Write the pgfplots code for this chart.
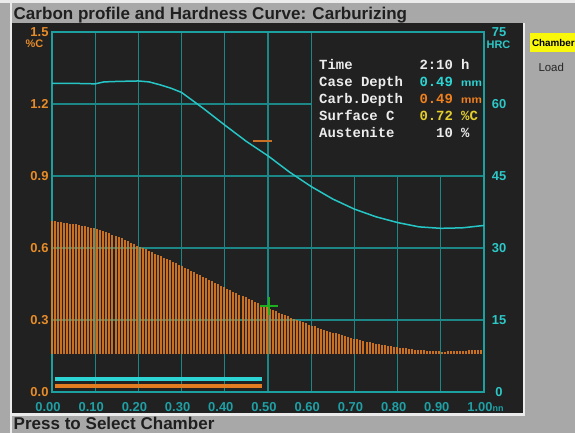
\documentclass[border=0pt]{standalone}
\usepackage{pgfplots}
\pgfplotsset{compat=1.18}
\usepackage{fontspec}
\setmainfont{Liberation Sans}
\setmonofont{Liberation Mono}
\definecolor{bg}{RGB}{33,33,33}
\definecolor{framegray}{RGB}{168,168,168}
\definecolor{lightline}{RGB}{235,235,235}
\definecolor{gridc}{RGB}{28,135,135}
\definecolor{axc}{RGB}{28,160,160}
\definecolor{hrdc}{RGB}{38,198,198}
\definecolor{carbc}{RGB}{226,124,32}
\definecolor{dashc}{RGB}{200,112,35}
\definecolor{lblorange}{RGB}{232,140,40}
\definecolor{lblcyan}{RGB}{45,200,200}
\definecolor{xlblc}{RGB}{30,160,165}
\definecolor{txtwhite}{RGB}{236,236,236}
\definecolor{txtcyan}{RGB}{45,212,212}
\definecolor{txtyellow}{RGB}{228,206,45}
\definecolor{txtorange}{RGB}{240,128,30}
\definecolor{crossg}{RGB}{30,175,30}
\definecolor{btnyellow}{RGB}{250,248,10}
\newcommand{\tickfont}{\bfseries\fontsize{13}{13}\selectfont}
\newcommand{\boxfont}{\ttfamily\bfseries\fontsize{14}{14}\selectfont}
\newcommand{\unitfont}{\sffamily\bfseries\fontsize{12}{12}\selectfont}
\begin{document}
\begin{tikzpicture}
\useasboundingbox (0bp,0bp) rectangle (575bp,433bp);
% frame and panels (picture coordinates in bp: y = 433 - pixel row)
\fill[framegray] (0bp,0bp) rectangle (575bp,433bp);
\fill[lightline] (0bp,429.5bp) rectangle (575bp,433bp);
\fill[lightline] (10bp,0bp) rectangle (12bp,430bp);
\fill[lightline] (12bp,17bp) rectangle (524.5bp,20bp);
\fill[lightline] (522.5bp,17bp) rectangle (524.5bp,410bp);
\fill[bg] (12bp,20bp) rectangle (522.5bp,410bp);
\node[anchor=base west, inner sep=0, text=black!88, font=\bfseries\fontsize{17.1}{17}\selectfont] at (13.5bp,413.7bp) {Carbon profile and Hardness Curve: Carburizing};
\node[anchor=base west, inner sep=0, text=black!88, font=\bfseries\fontsize{17.1}{17}\selectfont] at (13.5bp,4bp) {Press to Select Chamber};
\fill[btnyellow] (530bp,380.7bp) rectangle (576bp,399.7bp);
\node[anchor=base west, inner sep=0, text=black, font=\bfseries\fontsize{9.9}{10}\selectfont] at (531.8bp,386bp) {Chamber};
\node[anchor=base west, inner sep=0, text=black!85, font=\fontsize{11.5}{11.5}\selectfont] at (538.3bp,361.3bp) {Load};

\begin{axis}[
  at={(52bp,41bp)}, anchor=south west, scale only axis,
  width=432bp, height=360bp,
  xmin=0, xmax=1, ymin=0, ymax=1.5,
  axis line style={axc, line width=1.6bp},
  grid=major, major grid style={gridc, line width=1.1bp},
  major tick length=0pt,
  xtick={0,0.1,0.2,0.3,0.4,0.5,0.6,0.7,0.8,0.9,1},
  xticklabels={0.00,0.10,0.20,0.30,0.40,0.50,0.60,0.70,0.80,0.90,{1.00\rlap{\fontsize{9}{9}\selectfont nn}}},
  ytick={0,0.3,0.6,0.9,1.2,1.5},
  yticklabels={0.0,0.3,0.6,0.9,1.2,1.5},
  xticklabel style={text=xlblc, font=\tickfont, xshift=-4bp, yshift=-7bp},
  yticklabel style={text=lblorange, font=\tickfont},
  clip=false,
]
% carbon profile bars (from core carbon 0.158 up to the profile)
\addplot[carbc, line width=2bp, draw opacity=0.88, quiver={u=0, v=\thisrow{c}-0.158}]
  table[x=x, y expr=0.158] {
x c
0.000 0.714
0.007 0.712
0.014 0.710
0.021 0.708
0.028 0.706
0.035 0.704
0.042 0.702
0.049 0.700
0.056 0.698
0.063 0.695
0.070 0.693
0.077 0.690
0.084 0.688
0.091 0.685
0.098 0.683
0.105 0.679
0.112 0.674
0.119 0.670
0.126 0.665
0.133 0.661
0.140 0.656
0.147 0.652
0.154 0.647
0.161 0.641
0.168 0.635
0.175 0.629
0.182 0.622
0.189 0.616
0.196 0.610
0.203 0.605
0.210 0.599
0.217 0.594
0.224 0.588
0.231 0.583
0.238 0.577
0.245 0.572
0.252 0.566
0.259 0.560
0.266 0.554
0.273 0.548
0.280 0.542
0.287 0.536
0.294 0.530
0.301 0.524
0.308 0.518
0.315 0.511
0.322 0.505
0.329 0.499
0.336 0.493
0.343 0.486
0.350 0.480
0.357 0.474
0.364 0.467
0.371 0.461
0.378 0.455
0.385 0.449
0.392 0.442
0.399 0.436
0.406 0.430
0.413 0.424
0.420 0.418
0.427 0.412
0.434 0.406
0.441 0.400
0.448 0.394
0.455 0.388
0.462 0.382
0.469 0.376
0.476 0.370
0.483 0.364
0.490 0.358
0.497 0.353
0.504 0.347
0.511 0.342
0.518 0.336
0.525 0.331
0.532 0.326
0.539 0.320
0.546 0.315
0.553 0.310
0.560 0.305
0.567 0.300
0.574 0.296
0.581 0.291
0.588 0.286
0.595 0.281
0.602 0.277
0.609 0.273
0.616 0.268
0.623 0.264
0.630 0.260
0.637 0.256
0.644 0.252
0.651 0.247
0.658 0.244
0.665 0.240
0.672 0.237
0.679 0.233
0.686 0.229
0.693 0.226
0.700 0.222
0.707 0.219
0.714 0.216
0.721 0.213
0.728 0.210
0.735 0.207
0.742 0.204
0.749 0.201
0.756 0.199
0.763 0.197
0.770 0.195
0.777 0.193
0.784 0.191
0.791 0.189
0.798 0.187
0.805 0.185
0.812 0.183
0.819 0.182
0.826 0.180
0.833 0.179
0.840 0.177
0.847 0.176
0.854 0.174
0.861 0.173
0.868 0.172
0.875 0.172
0.882 0.171
0.889 0.170
0.896 0.169
0.903 0.168
0.910 0.168
0.917 0.169
0.924 0.169
0.931 0.169
0.938 0.170
0.945 0.170
0.952 0.170
0.959 0.171
0.966 0.173
0.973 0.174
0.980 0.175
0.987 0.176
0.994 0.177
};
% dark info box hiding the grid
\fill[bg] ([xshift=0.8bp,yshift=0.8bp]axis cs:0.6,0.9) rectangle ([xshift=-1bp,yshift=-1bp]axis cs:1,1.5);
% case depth / carb depth bars
\addplot[txtcyan, line width=4bp] coordinates {(0.007,0.055) (0.487,0.055)};
\addplot[carbc, line width=4bp] coordinates {(0.007,0.024) (0.487,0.024)};
% markers
\addplot[crossg, line width=1.3bp, only marks, mark=+, mark size=9bp] coordinates {(0.502,0.358)};
\addplot[dashc, line width=1.5bp] coordinates {(0.465,1.046) (0.509,1.046)};
\end{axis}

\begin{axis}[
  at={(52bp,41bp)}, anchor=south west, scale only axis,
  width=432bp, height=360bp,
  xmin=0, xmax=1, ymin=0, ymax=75,
  axis x line=none, axis y line*=right,
  y axis line style={axc, line width=1.6bp},
  major tick length=0pt,
  ytick={0,15,30,45,60,75},
  yticklabels={0,15,30,45,60,75},
  yticklabel style={text=lblcyan, font=\tickfont, anchor=center, xshift=15bp},
  clip=false,
]
\addplot[hrdc, line width=1.5bp] coordinates {
(0.00,64.3) (0.05,64.3) (0.10,64.2) (0.12,64.6) (0.15,64.7) (0.20,64.8)
(0.225,64.6) (0.25,64.0) (0.275,63.3) (0.30,62.4) (0.35,59.1) (0.40,55.6)
(0.45,52.2) (0.50,49.2) (0.55,45.8) (0.60,42.8) (0.65,40.2) (0.70,38.1)
(0.75,36.5) (0.80,35.3) (0.85,34.4) (0.90,34.1) (0.95,34.2) (1.00,34.7)
};
\end{axis}

% axis unit labels
\node[text=lblorange, font=\bfseries\fontsize{11}{11}\selectfont, inner sep=0] at (34.5bp,389bp) {\%C};
\node[text=lblcyan, font=\bfseries\fontsize{11}{11}\selectfont, inner sep=0] at (498.5bp,388bp) {HRC};

% info text
\node[anchor=base west, inner sep=0, text=txtwhite, font=\boxfont] at (319bp,363bp) {Time};
\node[anchor=base west, inner sep=0, text=txtwhite, font=\boxfont] at (319bp,346bp) {Case Depth};
\node[anchor=base west, inner sep=0, text=txtwhite, font=\boxfont] at (319bp,329bp) {Carb.Depth};
\node[anchor=base west, inner sep=0, text=txtwhite, font=\boxfont] at (319bp,312bp) {Surface C};
\node[anchor=base west, inner sep=0, text=txtwhite, font=\boxfont] at (319bp,295.5bp) {Austenite};
\node[anchor=base west, inner sep=0, text=txtwhite, font=\boxfont] at (419.3bp,363bp) {2:10};
\node[anchor=base west, inner sep=0, text=txtwhite, font=\boxfont] at (461bp,363bp) {h};
\node[anchor=base west, inner sep=0, text=txtcyan, font=\boxfont] at (419.3bp,346bp) {0.49};
\node[anchor=base west, inner sep=0, text=txtcyan, font=\unitfont] at (461bp,346bp) {mm};
\node[anchor=base west, inner sep=0, text=txtorange, font=\boxfont] at (419.3bp,329bp) {0.49};
\node[anchor=base west, inner sep=0, text=txtorange, font=\unitfont] at (461bp,329bp) {mm};
\node[anchor=base west, inner sep=0, text=txtyellow, font=\boxfont] at (419.3bp,312bp) {0.72};
\node[anchor=base west, inner sep=0, text=txtyellow, font=\boxfont] at (461bp,312bp) {\%C};
\node[anchor=base west, inner sep=0, text=txtwhite, font=\boxfont] at (436bp,295.5bp) {10};
\node[anchor=base west, inner sep=0, text=txtwhite, font=\boxfont] at (461bp,295.5bp) {\%};
\end{tikzpicture}
\end{document}
